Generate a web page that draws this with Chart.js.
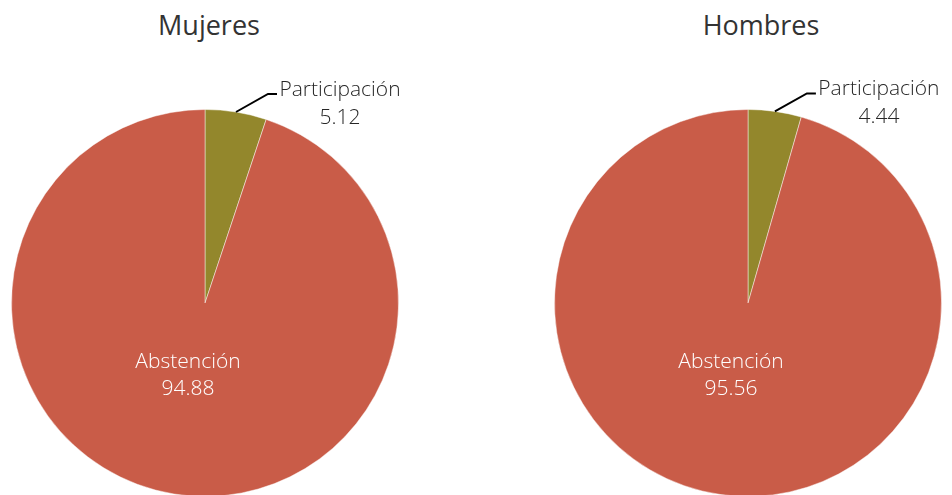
<!DOCTYPE html>
<html>
<head>
<meta charset="utf-8">
<script src="https://cdn.jsdelivr.net/npm/chart.js@4/dist/chart.umd.min.js"></script>
<style>
    html, body { margin: 0; padding: 0; background: #fff; overflow: hidden; }
    body { width: 952px; height: 495px; position: relative; font-family: 'Open Sans', 'Noto Sans', sans-serif; }
    .title { position: absolute; top: 6px; font-size: 27px; color: #333; font-weight: 400; text-align: center; width: 240px; }
    .box { position: absolute; top: 0; width: 476px; height: 520px; }
</style>
</head>
<body>
<div class="title" style="left: 89px;">Mujeres</div>
<div class="title" style="left: 641px;">Hombres</div>
<div class="box" style="left: 0;"><canvas id="chartMujeres"></canvas></div>
<div class="box" style="left: 476px;"><canvas id="chartHombres"></canvas></div>
<script>
// data
const categories = ['Participación', 'Abstención'];
const mujeresValues = [5.12, 94.88];
const hombresValues = [4.44, 95.56];
const sliceColors = ['#93872C', '#C95C48'];

// draws the leader label on the small slice and the inside label on the big one
const pieLabels = {
    id: 'pieLabels',
    afterDatasetsDraw(chart) {
        const ctx = chart.ctx;
        const meta = chart.getDatasetMeta(0);
        const values = chart.data.datasets[0].data;
        ctx.save();
        ctx.font = '300 21px "Open Sans", "Noto Sans", sans-serif';
        ctx.textAlign = 'center';
        ctx.textBaseline = 'middle';

        // small slice - outside with leader
        const a = meta.data[0];
        const mid = (a.startAngle + a.endAngle) / 2;
        const px = a.x + a.outerRadius * Math.cos(mid);
        const py = a.y + a.outerRadius * Math.sin(mid);
        const kx = px + 32, ky = py - 18;
        const ex = kx + 9;
        ctx.strokeStyle = '#000';
        ctx.lineWidth = 2;
        ctx.beginPath();
        ctx.moveTo(px, py);
        ctx.lineTo(kx, ky);
        ctx.lineTo(ex, ky);
        ctx.stroke();
        ctx.fillStyle = '#262626';
        const tx = ex + 63;
        ctx.fillText(categories[0], tx, ky - 4);
        ctx.fillText(values[0].toFixed(2), tx, ky + 24);

        // big slice - inside
        const b = meta.data[1];
        const r = b.outerRadius;
        ctx.fillStyle = '#fff';
        ctx.fillText(categories[1], b.x - 0.088 * r, b.y + 0.305 * r);
        ctx.fillText(values[1].toFixed(2), b.x - 0.088 * r, b.y + 0.445 * r);
        ctx.restore();
    }
};

function makePie(id, values, pad) {
    new Chart(document.getElementById(id), {
        type: 'pie',
        data: {
            labels: categories,
            datasets: [{
                data: values,
                backgroundColor: sliceColors,
                borderColor: 'rgba(255,255,255,0.45)',
                borderWidth: 1
            }]
        },
        options: {
            responsive: true,
            maintainAspectRatio: false,
            animation: false,
            layout: { padding: pad },
            plugins: {
                legend: { display: false },
                tooltip: { enabled: false }
            }
        },
        plugins: [pieLabels]
    });
}

makePie('chartMujeres', mujeresValues, { left: 11, right: 77, top: 109, bottom: 23 });
makePie('chartHombres', hombresValues, { left: 78, right: 10, top: 109, bottom: 23 });
</script>
</body>
</html>
